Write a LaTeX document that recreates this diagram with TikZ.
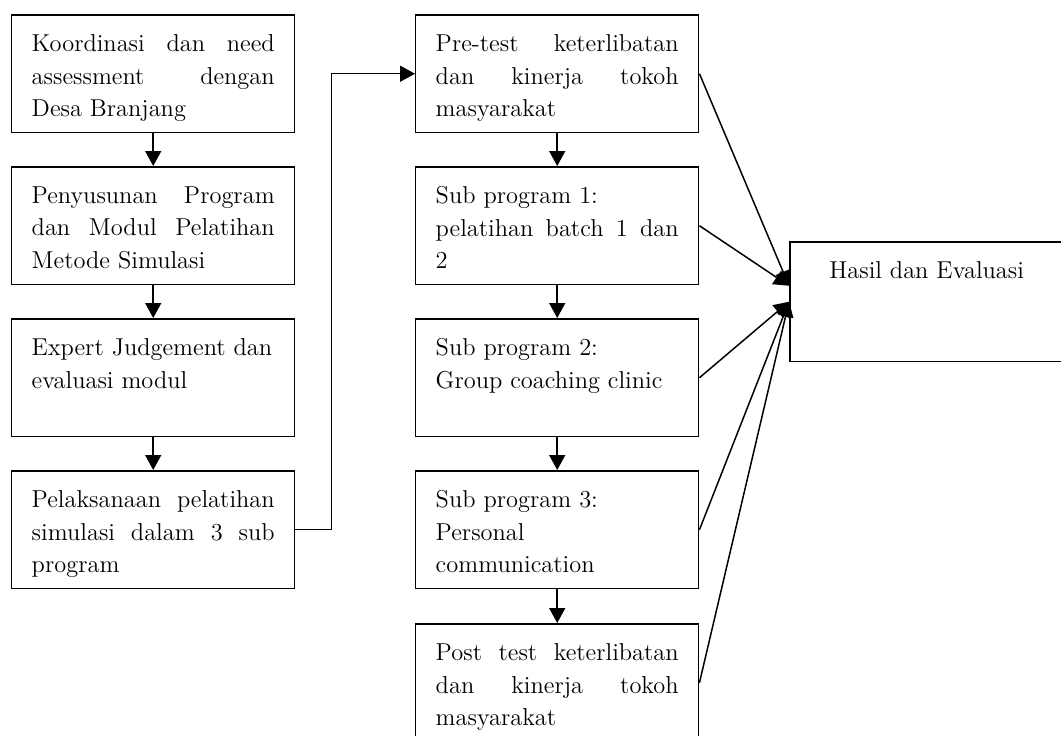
\documentclass[tikz,border=0pt]{standalone}
\usetikzlibrary{arrows.meta}

\tikzset{
    stepbox/.style={draw, line width=0.85pt, anchor=north west, inner xsep=0.4cm, inner ysep=0.4cm},
    arr/.style={line width=0.85pt, -{Triangle[length=0.3cm, width=0.32cm]}}
}
\newcommand{\boxtext}[1]{\parbox[t][1.56cm][t]{4.86cm}{\fontsize{13.9}{18.4}\selectfont #1}}

\begin{document}
\begin{tikzpicture}[x=0.02cm, y=-0.02cm]
    \useasboundingbox (0,0) rectangle (1061,735);

    % Left column
    \node[stepbox] (k1) at (11,14)  {\boxtext{Koordinasi dan need\linebreak assessment dengan\linebreak Desa Branjang}};
    \node[stepbox] (k2) at (11,166) {\boxtext{Penyusunan Program\linebreak dan Modul Pelatihan\linebreak Metode Simulasi}};
    \node[stepbox] (k3) at (11,318) {\boxtext{Expert Judgement dan\\ evaluasi modul}};
    \node[stepbox] (k4) at (11,470) {\boxtext{Pelaksanaan pelatihan\linebreak simulasi dalam 3 sub\linebreak program}};

    % Middle column
    \node[stepbox] (m1) at (415,14)  {\boxtext{Pre-test keterlibatan\linebreak dan kinerja tokoh\linebreak masyarakat}};
    \node[stepbox] (m2) at (415,166) {\boxtext{Sub program 1:\\ pelatihan batch 1 dan\linebreak 2}};
    \node[stepbox] (m3) at (415,318) {\boxtext{Sub program 2:\\ Group coaching clinic}};
    \node[stepbox] (m4) at (415,470) {\boxtext{Sub program 3:\\ Personal\\ communication}};
    \node[stepbox] (m5) at (415,623) {\boxtext{Post test keterlibatan\linebreak dan kinerja tokoh\linebreak masyarakat}};

    % Result
    \node[stepbox] (hasil) at (789,241)
        {\parbox[t][1.6cm][t]{4.68cm}{\centering\fontsize{13.9}{18.4}\selectfont Hasil dan Evaluasi}};
    \coordinate (hin1) at ([yshift=0.32cm]hasil.west);
    \coordinate (hin2) at (hasil.west);

    % Arrows
    \foreach \a/\b in {k1/k2, k2/k3, k3/k4, m1/m2, m2/m3, m3/m4, m4/m5}
        \draw[arr] (\a) -- (\b);
    \draw[arr] (k4.east) -- ++(36,0) |- (m1.west);
    \foreach \a/\b in {m1/hin1, m2/hin1, m3/hin2, m4/hin2, m5/hin2}
        \draw[arr] (\a.east) -- (\b);
\end{tikzpicture}
\end{document}
